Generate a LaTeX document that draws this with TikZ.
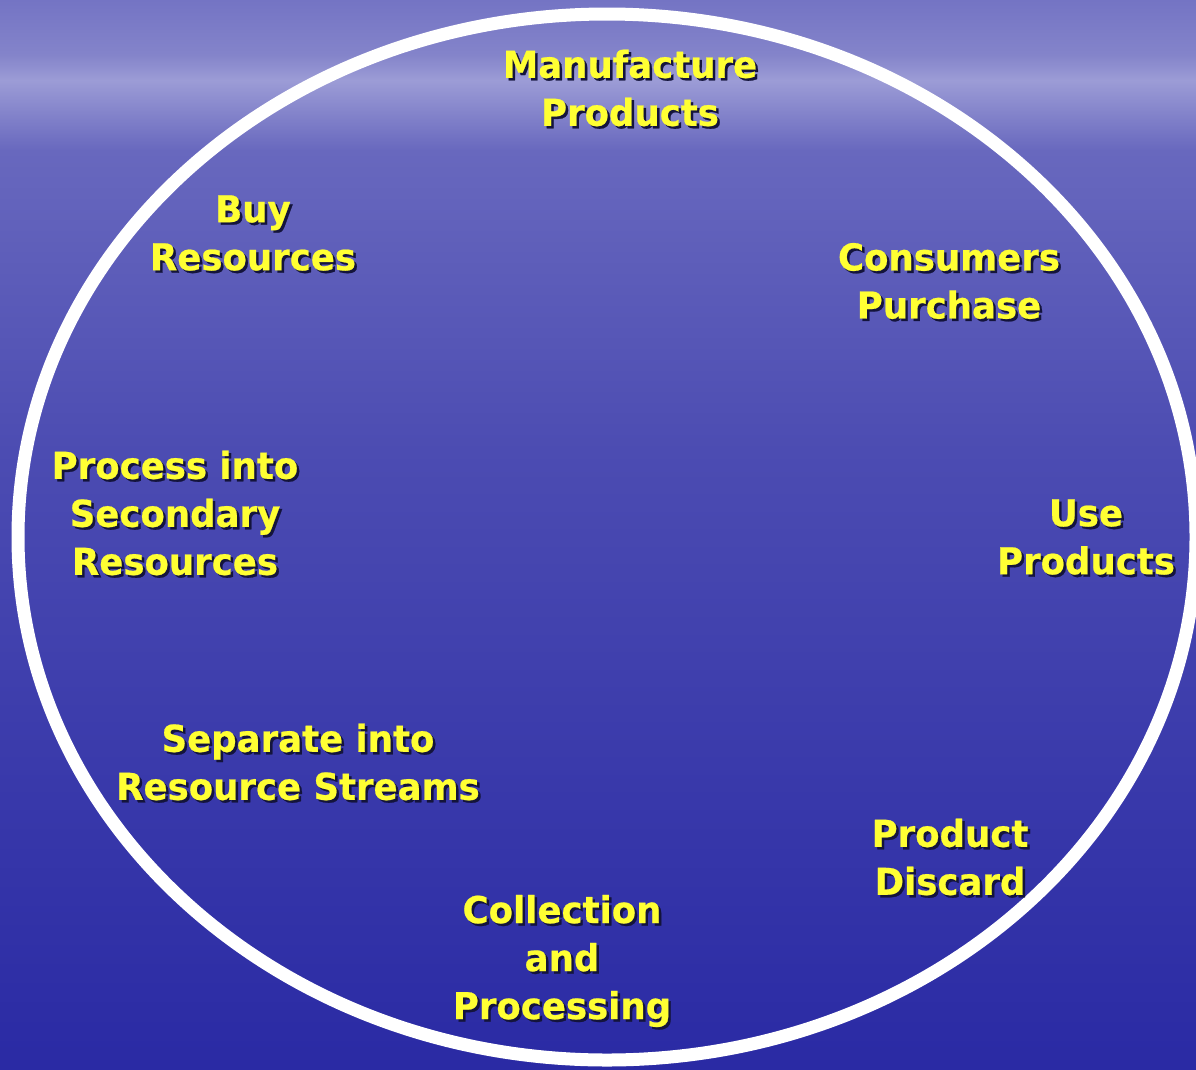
\documentclass[tikz,border=0pt]{standalone}
\usepackage{fontspec}
\setmainfont{DejaVu Sans}
\newfontfamily\lblfont[FakeStretch=0.96,FakeBold=0.6]{DejaVu Sans Bold}
\definecolor{lblyellow}{HTML}{FFFF33}
\definecolor{shadowc}{HTML}{14143C}
\definecolor{s0}{HTML}{7474C4}
\definecolor{s1}{HTML}{8484CA}
\definecolor{s2}{HTML}{9C9CD6}
\definecolor{s3}{HTML}{6868BE}
\definecolor{s4}{HTML}{4C4CB2}
\definecolor{s5}{HTML}{3838AA}
\definecolor{s6}{HTML}{2A2AA4}
\tikzset{
  lbl/.style={font=\lblfont\fontsize{37}{48}\selectfont, text=lblyellow, align=center, inner sep=0pt},
  lblshadow/.style={lbl, text=shadowc, xshift=2.5pt, yshift=-2.5pt},
  ring/.style={draw=white, line width=13pt},
}
\newcommand\cyclelabel[3]{%
  \node[lblshadow] (#1-s) at (#2) {#3};
  \node[lbl] (#1) at (#2) {#3};}
\begin{document}
\begin{tikzpicture}[x=1pt,y=-1pt]
\useasboundingbox (0,0) rectangle (1196,1069);
\clip (0,0) rectangle (1196,1069);
% background sea
\shade[top color=s0, bottom color=s1] (0,0) rectangle (1196,55.5);
\shade[top color=s1, bottom color=s2] (0,55) rectangle (1196,80.5);
\shade[top color=s2, bottom color=s3] (0,80) rectangle (1196,150.5);
\shade[top color=s3, bottom color=s4] (0,150) rectangle (1196,450.5);
\shade[top color=s4, bottom color=s5] (0,450) rectangle (1196,800.5);
\shade[top color=s5, bottom color=s6] (0,800) rectangle (1196,1069);
% ring
\draw[ring] (607,537) ellipse [x radius=589pt, y radius=523pt];
% labels
\cyclelabel{manu}{630,88}{Manufacture\\Products}
\cyclelabel{cons}{949,281}{Consumers\\Purchase}
\cyclelabel{use}{1086,537}{Use\\Products}
\cyclelabel{disc}{950,857}{Product\\Discard}
\cyclelabel{coll}{562,961}{Collection\\and\\Processing}
\cyclelabel{sep}{298,762}{Separate into\\Resource Streams}
\cyclelabel{proc}{175,513}{Process into\\Secondary\\Resources}
\cyclelabel{buy}{253,233}{Buy\\Resources}
\end{tikzpicture}
\end{document}
